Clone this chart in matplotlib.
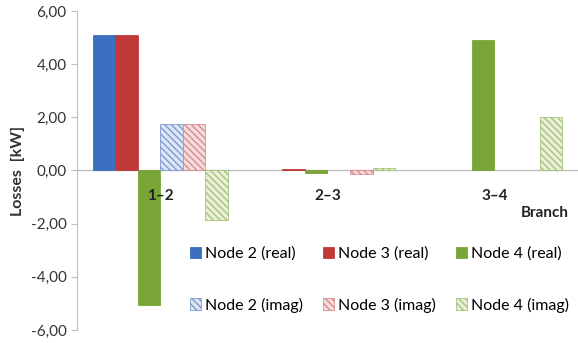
import numpy as np
import matplotlib
matplotlib.use("Agg")
import matplotlib.pyplot as plt
from matplotlib.ticker import FuncFormatter

plt.rcParams["font.family"] = ["Lato", "DejaVu Sans"]
plt.rcParams["hatch.linewidth"] = 1.0

branches = ["1\u20132", "2\u20133", "3\u20134"]
series = ["Node 2 (real)", "Node 3 (real)", "Node 4 (real)",
          "Node 2 (imag)", "Node 3 (imag)", "Node 4 (imag)"]
node2_real = [5.10, 0.00, 0.00]
node3_real = [5.10, 0.05, 0.00]
node4_real = [-5.05, -0.10, 4.90]
node2_imag = [1.75, 0.00, 0.00]
node3_imag = [1.75, -0.15, 0.00]
node4_imag = [-1.85, 0.10, 2.00]

values = [node2_real, node3_real, node4_real, node2_imag, node3_imag, node4_imag]
colors = ["#3b6fc0", "#c0393b", "#78a535"]
light = ["#dce6f5", "#f6dcdc", "#e8f0d8"]
hatch_col = ["#7d9bcf", "#d98b8c", "#a9c27e"]

fig = plt.figure(figsize=(5.78, 3.43), dpi=100)
ax = fig.add_axes([0.133, 0.038, 0.867, 0.930])

x = np.arange(len(branches))
w = 0.135
handles = []
for k, vals in enumerate(values):
    off = (k - 2.5) * w
    c = k % 3
    lw = [0.6 if v != 0 else 0 for v in vals]
    if k < 3:
        h = ax.bar(x + off, vals, w, color=colors[c], edgecolor=colors[c],
                   linewidth=lw, label=series[k], zorder=3)
    else:
        h = ax.bar(x + off, vals, w, color=light[c], edgecolor=hatch_col[c],
                   hatch="\\\\\\\\\\", linewidth=lw, label=series[k], zorder=3)
    handles.append(h)

ax.set_xlim(-0.5, 2.5)
ax.set_ylim(-6, 6)
ax.set_yticks(np.arange(-6, 7, 2))
ax.yaxis.set_major_formatter(FuncFormatter(lambda v, p: f"{v:.2f}".replace(".", ",")))
ax.set_xticks([])
for s in ["top", "right", "bottom"]:
    ax.spines[s].set_visible(False)
ax.spines["left"].set_color("#bfbfbf")
ax.axhline(0, color="#bfbfbf", linewidth=1, zorder=2)
ax.tick_params(axis="y", colors="#bfbfbf", length=4, labelcolor="#333333", labelsize=11)
ax.set_ylabel("Losses  [kW]", fontsize=11.5, fontweight="bold", color="#333333", labelpad=4)

for i, b in enumerate(branches):
    ax.text(i, -0.95, b, ha="center", va="center", fontsize=11, fontweight="bold",
            color="#222222", zorder=4)
ax.text(2.3, -1.6, "Branch", ha="center", va="center", fontsize=11, fontweight="bold",
        color="#222222")

order = [0, 3, 1, 4, 2, 5]
leg_h = [handles[i] for i in order]
leg_l = [series[i] for i in order]
ax.legend(leg_h, leg_l, ncol=3, loc="upper left", bbox_to_anchor=(0.317, 0.300),
          bbox_transform=fig.transFigure, frameon=False, fontsize=11.5,
          handlelength=0.7, handleheight=0.7, handletextpad=0.25,
          labelspacing=2.3, columnspacing=1.25, borderaxespad=0)

fig.savefig("out.png", dpi=100)
